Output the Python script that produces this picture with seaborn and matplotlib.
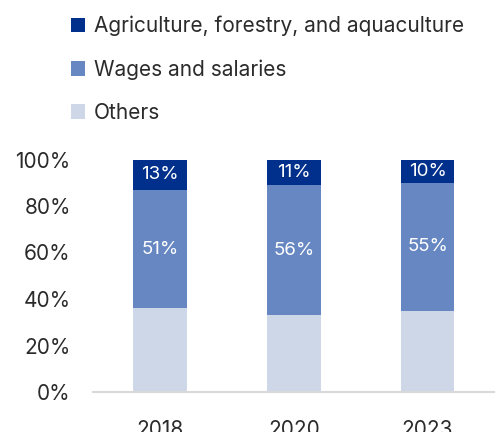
import matplotlib
matplotlib.use("Agg")
import matplotlib.pyplot as plt
from matplotlib.patches import Patch
import seaborn as sns
import pandas as pd
import numpy as np

years = ["2018", "2020", "2023"]
others = [36, 33, 35]
wages = [51, 56, 55]
agriculture = [13, 11, 10]
series_names = ["Agriculture, forestry, and aquaculture", "Wages and salaries", "Others"]
y_ticks = [0, 20, 40, 60, 80, 100]

c_agri = "#00308C"
c_wage = "#6787C2"
c_other = "#CED7E8"
text_color = "#2B2B2B"

sns.set_theme(style="white")
plt.rcParams["font.family"] = ["Inter", "DejaVu Sans"]

df = pd.DataFrame({
    "year": years,
    "others": others,
    "wages": wages,
    "agriculture": agriculture,
})
df["lvl_wages"] = df["others"] + df["wages"]
df["lvl_total"] = df["lvl_wages"] + df["agriculture"]

fig = plt.figure(figsize=(5.01, 4.32), dpi=100)
ax = fig.add_axes([93 / 501, 40 / 432, 401.5 / 501, 232.5 / 432])

# stacked bars drawn as overlapping cumulative layers
sns.barplot(data=df, x="year", y="lvl_total", color=c_agri, width=0.4,
            saturation=1, ax=ax, linewidth=0)
sns.barplot(data=df, x="year", y="lvl_wages", color=c_wage, width=0.4,
            saturation=1, ax=ax, linewidth=0)
sns.barplot(data=df, x="year", y="others", color=c_other, width=0.4,
            saturation=1, ax=ax, linewidth=0)

for i, row in df.iterrows():
    ax.text(i, row["others"] + row["wages"] / 2, f"{row['wages']}%",
            ha="center", va="center", color="white", fontsize=13.5)
    ax.text(i, row["lvl_wages"] + row["agriculture"] / 2, f"{row['agriculture']}%",
            ha="center", va="center", color="white", fontsize=13.5)

ax.set_xlim(-0.5, 2.5)
ax.set_ylim(0, 100)
ax.set_yticks(y_ticks)
ax.set_yticklabels([f"{t}%" for t in y_ticks])
ax.set_xlabel("")
ax.set_ylabel("")
ax.tick_params(axis="y", length=0, pad=16, labelsize=15, labelcolor=text_color)
ax.tick_params(axis="x", length=0, pad=20, labelsize=15, labelcolor=text_color)
for side in ["left", "right", "top"]:
    ax.spines[side].set_visible(False)
ax.spines["bottom"].set_color("#D9D9D9")
ax.spines["bottom"].set_linewidth(1.5)

handles = [Patch(facecolor=c, edgecolor="none") for c in (c_agri, c_wage, c_other)]
fig.legend(handles, series_names, loc="upper left",
           bbox_to_anchor=(52 / 501, 1 + 3 / 432), frameon=False,
           fontsize=15.0, labelcolor=text_color, handlelength=0.7,
           handleheight=0.7, handletextpad=0.4, labelspacing=1.1)

fig.savefig("out.png", dpi=100)
